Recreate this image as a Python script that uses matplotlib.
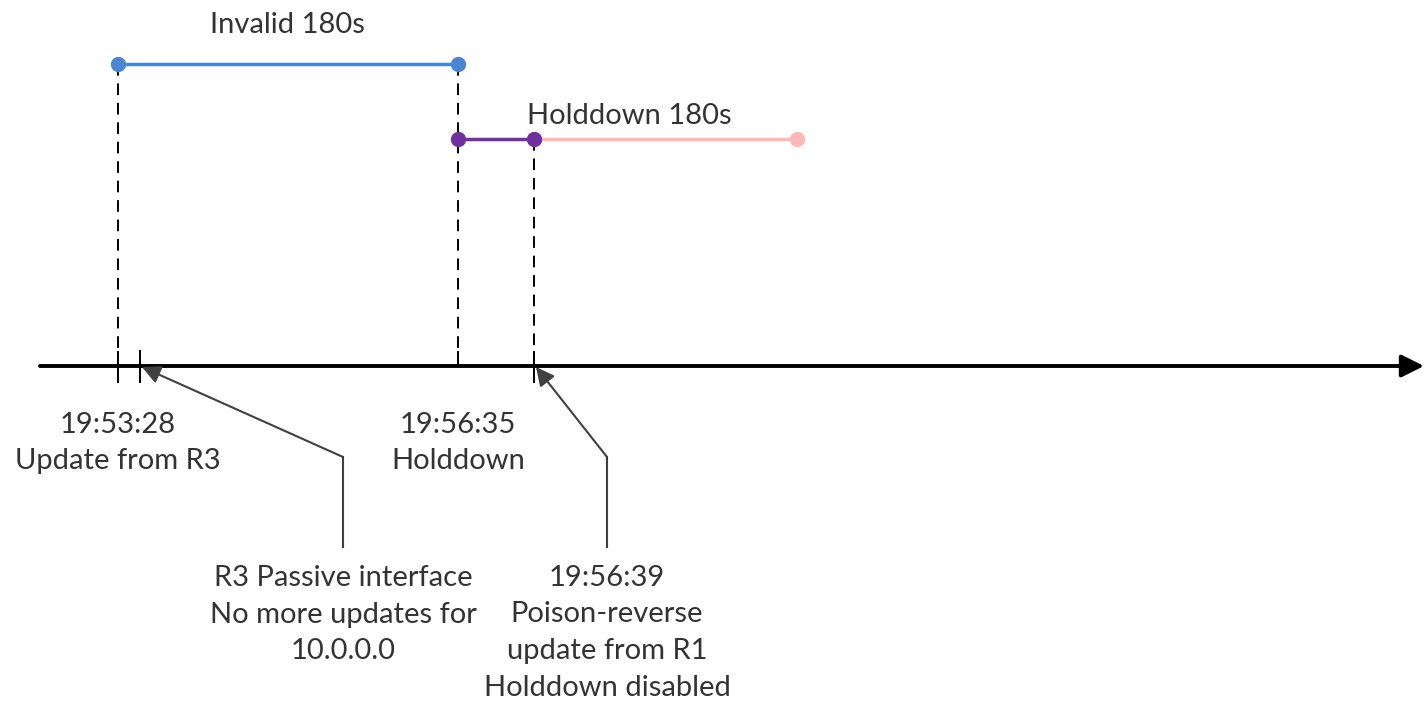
import matplotlib.pyplot as plt

# schematic timeline (positions are not to scale, as in the original sketch)
event_x = [118, 458, 534]
event_labels = ['19:53:28\nUpdate from R3', '19:56:35\nHolddown', '']
event_top = [64, 64, 139]
passive_x = 140

# timer bars: (start, end, row)
invalid_bar = [118, 458]
holddown_used = [458, 534]
holddown_left = [534, 797]
invalid_label = 'Invalid 180s'
holddown_label = 'Holddown 180s'

callout_texts = ['R3 Passive interface\nNo more updates for\n10.0.0.0',
                 '19:56:39\nPoison-reverse\nupdate from R1\nHolddown disabled']
callout_x = [343, 607]
callout_targets = [passive_x, event_x[2]]

plt.rcParams['font.family'] = ['Lato', 'DejaVu Sans']
text_color = '#333333'
fs = 21

fig = plt.figure(figsize=(14.24, 7.04), dpi=100)
ax = fig.add_axes([0, 0, 1, 1])
ax.set_xlim(0, 1424)
ax.set_ylim(704, 0)
ax.axis('off')

axis_y = 366

# main time axis
ax.annotate('', xy=(1424, axis_y), xytext=(40, axis_y), annotation_clip=False,
            arrowprops=dict(arrowstyle='-|>', lw=2.8, color='black',
                            mutation_scale=34, shrinkA=0, shrinkB=0))

# dashed event lines
for i, (x, top) in enumerate(zip(event_x, event_top)):
    bottom = axis_y if i == 1 else 382
    ax.plot([x, x], [top, axis_y], color='black', lw=1.4, ls=(0, (6, 4)))
    ax.plot([x, x], [axis_y - 14, bottom], color='black', lw=1.4)
ax.plot([passive_x, passive_x], [351, 382], color='black', lw=1.4)

# timer bars
ax.plot(invalid_bar, [64, 64], color='#4A86D4', lw=2.5, marker='o', ms=10)
ax.plot(holddown_left, [139, 139], color='#FFB8B8', lw=2.5, marker='o', ms=10)
ax.plot(holddown_used, [139, 139], color='#7030A0', lw=2.5, marker='o', ms=10)
ax.text(287, 25, invalid_label, ha='center', va='center', fontsize=fs, color=text_color)
ax.text(527, 116, holddown_label, ha='left', va='center', fontsize=fs, color=text_color)

# event labels under the axis
for x, lab in zip(event_x, event_labels):
    if lab:
        ax.text(x, 443, lab, ha='center', va='center', fontsize=fs,
                color=text_color, linespacing=1.5)

# callouts
for cx, tx, txt in zip(callout_x, callout_targets, callout_texts):
    ax.plot([cx, cx], [547, 457], color='#404040', lw=1.5)
    ax.annotate('', xy=(tx + 2, axis_y + 1), xytext=(cx, 457),
                arrowprops=dict(arrowstyle='-|>', lw=1.5, color='#404040',
                                mutation_scale=28, shrinkA=0, shrinkB=0))
    ax.text(cx, 565, txt, ha='center', va='top', fontsize=fs,
            color=text_color, linespacing=1.5)

fig.savefig('out.png', dpi=100)
